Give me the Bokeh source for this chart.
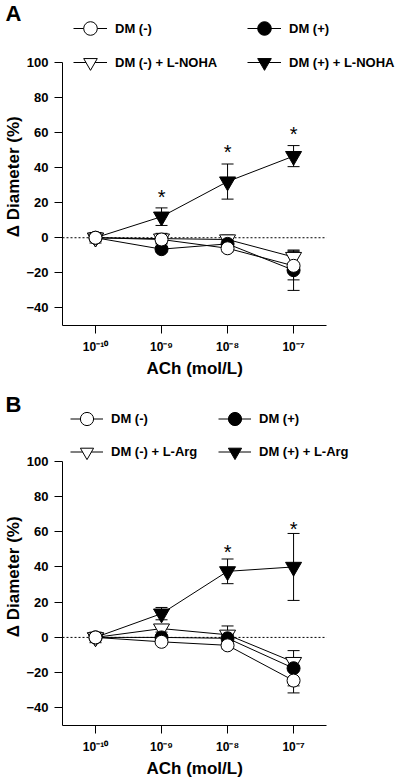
from bokeh.plotting import figure
from bokeh.models import (FixedTicker, Whisker, TeeHead, Legend, LegendItem,
                          ColumnDataSource, Range1d, Title)
from bokeh.layouts import column
from bokeh.embed import file_html
from bokeh.resources import INLINE
from bokeh.core.properties import value

# ---------------- data ----------------
ach_exponent = [-10, -9, -8, -7]
x_tick_labels = ["10⁻¹⁰", "10⁻⁹", "10⁻⁸", "10⁻⁷"]
x_axis_span = [-10.5, -6.5]
y_ticks = [-40, -20, 0, 20, 40, 60, 80, 100]
y_axis_span = [-50, 100]
zero_line_y = [0, 0]

a_labels = ["DM (-)", "DM (+)", "DM (-) + L-NOHA", "DM (+) + L-NOHA"]
a_dm_minus = [0, -1, -6, -16]
a_dm_minus_err = [1, 2, 2, 8]
a_dm_plus = [0, -6.5, -3.5, -18.5]
a_dm_plus_err = [1, 1.5, 2, 11.5]
a_dm_minus_noha = [0, -0.5, -1, -11]
a_dm_minus_noha_err = [3, 3, 2.5, 3.5]
a_dm_plus_noha = [0, 12, 32, 46.5]
a_dm_plus_noha_err = [2, 5, 10, 6]
a_sig_x = [-9, -8, -7]
a_sig_y = [23, 49, 59]

b_labels = ["DM (-)", "DM (+)", "DM (-) + L-Arg", "DM (+) + L-Arg"]
b_dm_minus = [0, -2.5, -4.5, -24.5]
b_dm_minus_err = [1, 1.5, 2, 7]
b_dm_plus = [0, 0, -0.5, -17.5]
b_dm_plus_err = [1, 1.5, 2, 10]
b_dm_minus_arg = [0, 5, 1.5, -14]
b_dm_minus_arg_err = [3, 2, 5, 2]
b_dm_plus_arg = [0, 13.5, 37.5, 40]
b_dm_plus_arg_err = [2, 3.5, 7, 19]
b_sig_x = [-8, -7]
b_sig_y = [48.6, 61.4]

FONT = "Liberation Sans"
NBSP = "\u00a0"


def make_panel(letter, labels, series, errs, sig_x, sig_y, height, border_top,
               border_bottom, y_top, leg_y, leg_x1, leg_x2, leg_h, title_standoff,
               ylabel_pad):
    p = figure(width=404, height=height, output_backend="svg", toolbar_location=None,
               x_range=Range1d(x_axis_span[0], -5.35),
               y_range=Range1d(y_axis_span[0], y_top),
               min_border_left=62, min_border_right=2,
               min_border_top=border_top, min_border_bottom=border_bottom)
    p.outline_line_color = None
    p.xgrid.visible = False
    p.ygrid.visible = False
    p.background_fill_color = "white"
    p.border_fill_color = "white"

    p.title = Title(text=letter, align="left", offset=-57, standoff=title_standoff,
                    text_font=FONT, text_font_size="22px", text_font_style="bold",
                    text_color="black")

    xa = p.xaxis[0]
    xa.ticker = FixedTicker(ticks=ach_exponent)
    xa.bounds = (x_axis_span[0], x_axis_span[1])
    xa.major_label_overrides = {t: l for t, l in zip(ach_exponent, x_tick_labels)}
    xa.axis_label = "ACh (mol/L)" + NBSP * 16
    ya = p.yaxis[0]
    ya.ticker = FixedTicker(ticks=y_ticks)
    ya.bounds = (y_axis_span[0], y_axis_span[1])
    ya.axis_label = "Δ Diameter (%)" + NBSP * ylabel_pad
    for ax in (xa, ya):
        ax.minor_tick_line_color = None
        ax.major_tick_in = 0
        ax.major_tick_out = 8
        ax.axis_line_color = "black"
        ax.major_tick_line_color = "black"
        ax.major_label_text_font = FONT
        ax.major_label_text_font_style = "bold"
        ax.major_label_text_color = "black"
        ax.axis_label_text_font = FONT
        ax.axis_label_text_font_style = "bold"
        ax.axis_label_text_font_size = "17px"
        ax.axis_label_text_color = "black"
    xa.major_label_text_font_size = "12px"
    ya.major_label_text_font_size = "13px"
    xa.major_label_standoff = 6
    ya.major_label_standoff = 6
    xa.axis_label_standoff = 2
    ya.axis_label_standoff = 0

    # dotted zero line across the x-axis span
    p.line(x=x_axis_span, y=zero_line_y, line_color="black", line_width=1,
           line_dash="2 2")

    markers = ["inverted_triangle", "inverted_triangle", "circle", "circle"]
    fills = ["black", "white", "black", "white"]
    sizes = [16, 16, 13, 13]
    order = [3, 2, 1, 0]  # draw order: (+)X, (-)X, (+), (-)
    items = {}
    for k, idx in enumerate(order):
        ys = series[idx]
        es = errs[idx]
        src = ColumnDataSource(dict(x=ach_exponent, y=ys,
                                    upper=[v + e for v, e in zip(ys, es)],
                                    lower=[v - e for v, e in zip(ys, es)]))
        p.add_layout(Whisker(base="x", upper="upper", lower="lower", source=src,
                             line_color="black", line_width=1,
                             upper_head=TeeHead(size=12, line_width=1, line_color="black"),
                             lower_head=TeeHead(size=12, line_width=1, line_color="black")))
        lr = p.line("x", "y", source=src, line_color="black", line_width=1)
        sr = p.scatter("x", "y", source=src, marker=markers[k], size=sizes[k],
                       fill_color=fills[k], line_color="black", line_width=1)
        items[idx] = LegendItem(label=labels[idx], renderers=[lr, sr])

    p.text(x=sig_x, y=sig_y, text=["*"] * len(sig_x), text_font=value(FONT),
           text_font_size="20px", text_align="center", text_baseline="middle",
           text_color="black")

    for lx, idxs in ((leg_x1, [0, 2]), (leg_x2, [1, 3])):
        leg = Legend(items=[items[i] for i in idxs], location=(lx, leg_y),
                     orientation="vertical", glyph_width=leg_h, glyph_height=leg_h,
                     label_height=leg_h, spacing=0, padding=0, margin=0,
                     label_standoff=8, label_text_font=FONT,
                     label_text_font_size="13px", label_text_font_style="bold",
                     label_text_color="black",
                     border_line_color=None, background_fill_alpha=0)
        p.add_layout(leg)
    return p


pA = make_panel("A", a_labels,
                [a_dm_minus, a_dm_plus, a_dm_minus_noha, a_dm_plus_noha],
                [a_dm_minus_err, a_dm_plus_err, a_dm_minus_noha_err, a_dm_plus_noha_err],
                a_sig_x, a_sig_y, height=380, border_top=18, border_bottom=53,
                y_top=124.9, leg_y=246, leg_x1=11, leg_x2=185, leg_h=34,
                title_standoff=-14, ylabel_pad=2)
pB = make_panel("B", b_labels,
                [b_dm_minus, b_dm_plus, b_dm_minus_arg, b_dm_plus_arg],
                [b_dm_minus_err, b_dm_plus_err, b_dm_minus_arg_err, b_dm_plus_arg_err],
                b_sig_x, b_sig_y, height=400, border_top=24, border_bottom=54,
                y_top=132.2, leg_y=257, leg_x1=8, leg_x2=156, leg_h=33,
                title_standoff=-25, ylabel_pad=5)

layout = column(pA, pB, spacing=0)
open("out.html", "w").write(file_html(layout, INLINE))
